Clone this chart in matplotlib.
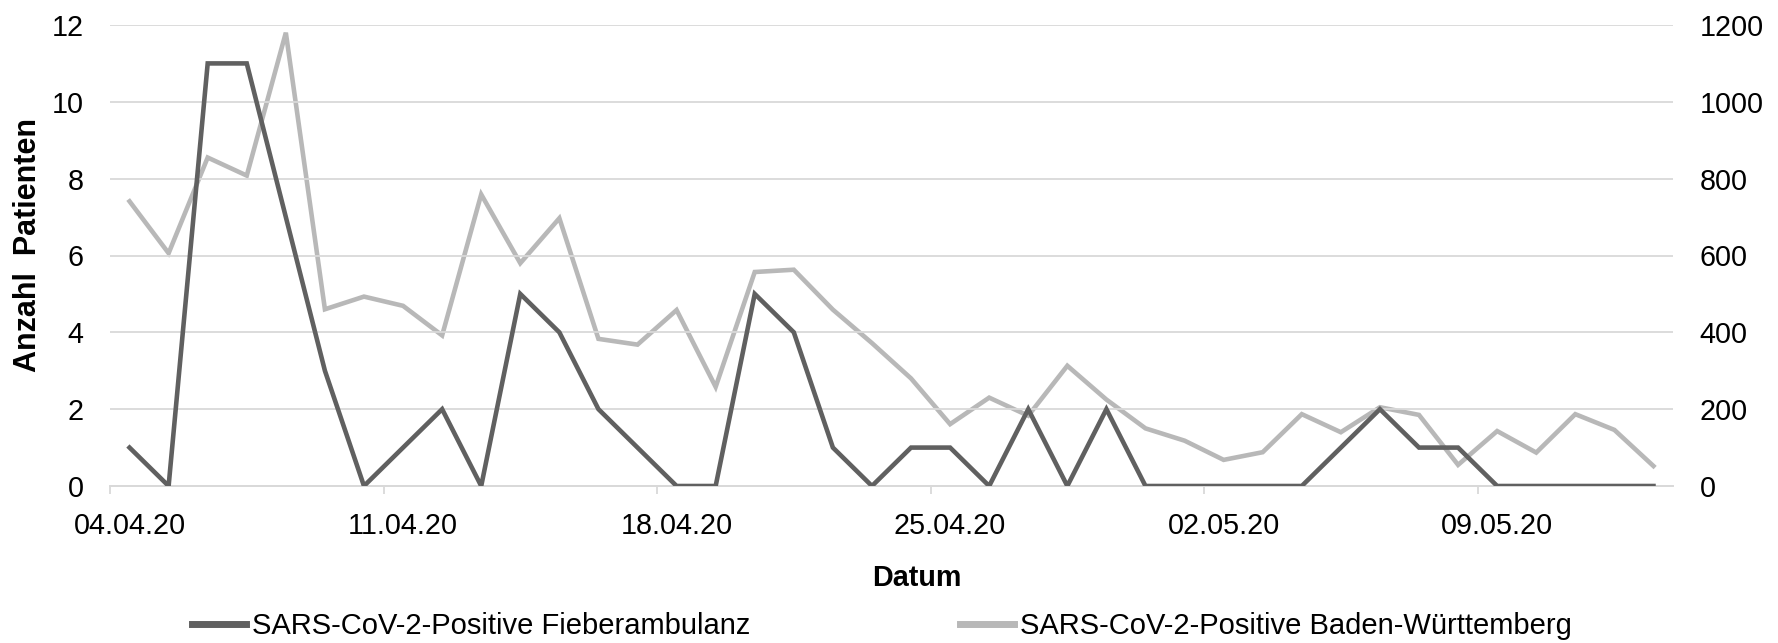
import numpy as np
import pandas as pd
import matplotlib
matplotlib.use("Agg")
import matplotlib.pyplot as plt

plt.rcParams['font.family'] = ['Liberation Sans', 'DejaVu Sans']

# data
dates = pd.date_range("2020-04-04", "2020-05-13", freq="D")
fieberambulanz = [1, 0, 11, 11, 7, 3, 0, 1, 2, 0,
                  5, 4, 2, 1, 0, 0, 5, 4, 1, 0,
                  1, 1, 0, 2, 0, 2, 0, 0, 0, 0,
                  0, 1, 2, 1, 1, 0, 0, 0, 0, 0]
baden_wuerttemberg = [741, 606, 855, 808, 1180, 460, 493, 469, 392, 759,
                      580, 697, 383, 368, 458, 258, 557, 563, 459, 372,
                      280, 161, 230, 183, 313, 225, 150, 118, 68, 88,
                      187, 140, 205, 185, 55, 143, 87, 187, 146, 52]
label_dark = "SARS-CoV-2-Positive Fieberambulanz"
label_light = "SARS-CoV-2-Positive Baden-Württemberg"

dark = '#606060'
light = '#b8b8b8'
grid = '#d9d9d9'
fs = 20.7

x = np.arange(len(dates))
tick_labels = [d.strftime("%d.%m.%y") for d in dates[::7]]

fig = plt.figure(figsize=(17.78, 6.43), dpi=100)
ax = fig.add_axes([110/1778, 1 - 486/643, (1673 - 110)/1778, (486 - 25)/643])
ax2 = ax.twinx()

l1, = ax.plot(x, fieberambulanz, color=dark, lw=3.3, solid_joinstyle='miter', zorder=3)
l2, = ax2.plot(x, baden_wuerttemberg, color=light, lw=3.3, solid_joinstyle='miter', zorder=2)
# light line behind the dark one
ax.set_zorder(ax2.get_zorder() + 1)
ax.patch.set_visible(False)

ax.set_xlim(-0.5, len(dates) - 0.5)
ax.set_ylim(0, 12)
ax2.set_ylim(0, 1200)
ax.set_yticks(range(0, 13, 2))
ax2.set_yticks(range(0, 1201, 200))

ax.yaxis.grid(True, color=grid, lw=1.3)
ax.set_axisbelow(True)

for a in (ax, ax2):
    for s in ('top', 'right', 'left'):
        a.spines[s].set_visible(False)
    a.spines['bottom'].set_color(grid)
    a.spines['bottom'].set_linewidth(1.3)

ax.tick_params(axis='y', length=0, pad=19, labelsize=fs)
ax2.tick_params(axis='y', length=0, pad=19, labelsize=fs)

# tick marks between days, labels under the days
ax.set_xticks(np.arange(-0.5, len(dates), 7))
ax.set_xticklabels([])
ax.tick_params(axis='x', which='major', length=6, width=1.3, color=grid, direction='out')
ax.set_xticks(x[::7], minor=True)
ax.set_xticklabels(tick_labels, minor=True)
ax.tick_params(axis='x', which='minor', length=0, pad=19, labelsize=fs)

fig.text(917/1778, 1 - 578/643, "Datum", ha='center', va='center', fontsize=fs, fontweight='bold')
fig.text(28/1778, 1 - 245/643, "Anzahl  Patienten", ha='center', va='center',
         rotation=90, fontsize=22, fontweight='bold')

fig.legend([l1, l2], [label_dark, label_light], loc='center', bbox_to_anchor=(882/1778, 1 - 626/643),
           ncol=2, frameon=False, fontsize=21, handlelength=1.85, handletextpad=0.2,
           columnspacing=7.2, borderpad=0)
for h in fig.legends[0].get_lines():
    h.set_linewidth(5)

fig.savefig("out.png", dpi=100)
